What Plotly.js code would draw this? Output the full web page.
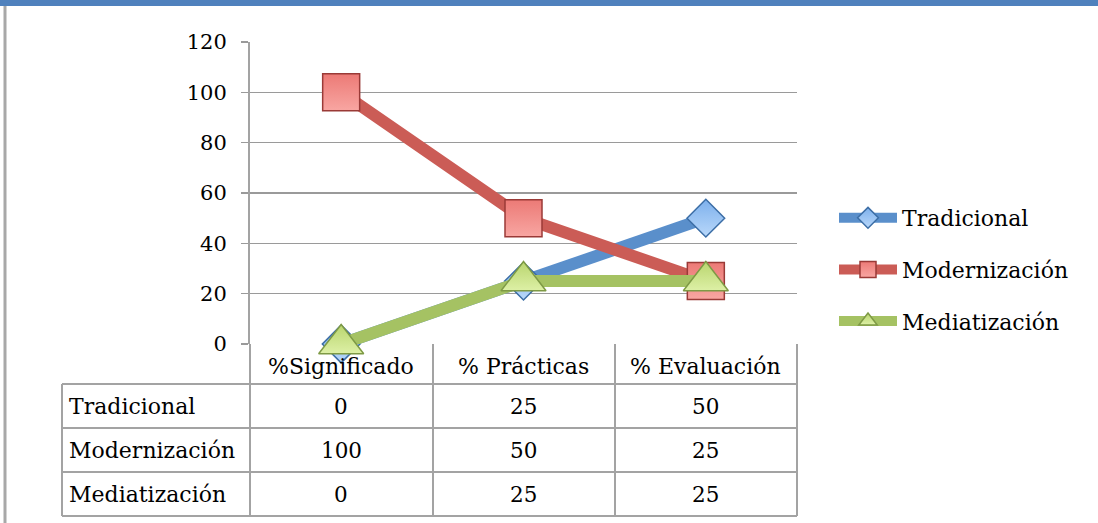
<!DOCTYPE html>
<html>
<head>
<meta charset="utf-8">
<script src="https://cdn.plot.ly/plotly-3.0.1.min.js"></script>
<style>
html,body{margin:0;padding:0;background:#fff;}
#chart{width:1098px;height:523px;}
</style>
</head>
<body>
<div id="chart"></div>
<script>
// ---- data ----
var categories = ['%Significado', '% Prácticas', '% Evaluación'];
var seriesNames = ['Tradicional', 'Modernización', 'Mediatización'];
var tradicional = [0, 25, 50];
var modernizacion = [100, 50, 25];
var mediatizacion = [0, 25, 25];
var yTicks = [0, 20, 40, 60, 80, 100, 120];

var seriesValues = [tradicional, modernizacion, mediatizacion];

// ---- layout geometry (pixels) ----
var W = 1098, H = 523;
var L = 250, R = 797, T = 42, B = 344;
var pw = R - L, ph = B - T;
function px(x) { return (x - L) / pw; }
function py(y) { return (B - y) / ph; }

var FONT = 'DejaVu Serif';
var GRID = '#9a9a9a';
var TB = '#a3a3a3';

var styles = [
  {line: '#5A8FCB', fill: '#7DB0EC', grad: '#B9D8FA', edge: '#3C6EA6', symbol: 'diamond', size: 29},
  {line: '#CB5C56', fill: '#EC7A76', grad: '#F8A6A2', edge: '#9A3A37', symbol: 'square', size: 37},
  {line: '#A5C263', fill: '#B9D56E', grad: '#DDF0A6', edge: '#7E9A45', symbol: 'triangle-up', size: 39}
];

var traces = seriesNames.map(function (name, i) {
  var s = styles[i];
  return {
    type: 'scatter', mode: 'lines+markers', name: name,
    x: categories, y: seriesValues[i],
    legendgroup: 'g' + i,
    cliponaxis: false,
    line: {color: s.line, width: 12},
    marker: {symbol: s.symbol, size: s.size, color: s.fill,
             gradient: {type: 'vertical', color: s.grad},
             line: {color: s.edge, width: 1.5}}
  };
});

var shapes = [];
var annotations = [];
function hline(x0, x1, y, color, w) {
  shapes.push({type: 'line', xref: 'paper', yref: 'paper', x0: px(x0), x1: px(x1), y0: py(y), y1: py(y),
               line: {color: color, width: w}});
}
function vline(x, y0, y1, color, w) {
  shapes.push({type: 'line', xref: 'paper', yref: 'paper', x0: px(x), x1: px(x), y0: py(y0), y1: py(y1),
               line: {color: color, width: w}});
}

// header strip and left border
shapes.push({type: 'rect', xref: 'paper', yref: 'paper', x0: px(0), x1: px(W), y0: py(0), y1: py(6),
             line: {width: 0}, fillcolor: '#4F81BD', layer: 'above'});
vline(5, 6, H, '#a8a8a8', 3);

// data table
var rowTops = [384, 428, 472, 516];
rowTops.forEach(function (y) { hline(62, 797, y, TB, 2); });
vline(62, 384, 516, TB, 2);
vline(250, 344, 516, TB, 2);
vline(433, 344, 516, TB, 2);
vline(615, 344, 516, TB, 2);
vline(797, 344, 516, TB, 2);

// header labels (categories)
categories.forEach(function (c) {
  annotations.push({xref: 'x', yref: 'paper', x: c, y: py(366), text: c, showarrow: false,
                    font: {family: FONT, size: 22, color: '#000'}, xanchor: 'center', yanchor: 'middle'});
});
// rows
seriesNames.forEach(function (name, i) {
  var yc = (rowTops[i] + rowTops[i + 1]) / 2;
  annotations.push({xref: 'paper', yref: 'paper', x: px(67), y: py(yc), text: name, showarrow: false,
                    font: {family: FONT, size: 22, color: '#000'}, xanchor: 'left', yanchor: 'middle'});
  seriesValues[i].forEach(function (v, j) {
    annotations.push({xref: 'x', yref: 'paper', x: categories[j], y: py(yc), text: String(v), showarrow: false,
                      font: {family: FONT, size: 21.5, color: '#000'}, xanchor: 'center', yanchor: 'middle'});
  });
});

var layout = {
  width: W, height: H,
  margin: {l: L, r: W - R, t: T, b: H - B, pad: 0},
  paper_bgcolor: '#fff', plot_bgcolor: '#fff',
  showlegend: true,
  legend: {x: px(834), y: py(197), xanchor: 'left', yanchor: 'top',
           font: {family: FONT, size: 22, color: '#000'},
           traceorder: 'grouped', tracegroupgap: 20, itemwidth: 58,
           bgcolor: 'rgba(0,0,0,0)'},
  xaxis: {type: 'category', range: [-0.5, 2.5], showticklabels: false, showgrid: false,
          zeroline: false, showline: false, ticks: ''},
  yaxis: {range: [0, 120], tickvals: yTicks, ticktext: yTicks.map(String),
          showgrid: true, gridcolor: GRID, gridwidth: 1.3,
          zeroline: false, showline: true, linecolor: TB, linewidth: 2,
          ticks: 'outside', ticklen: 7, tickcolor: GRID, tickwidth: 1.3,
          ticklabelstandoff: 10,
          tickfont: {family: FONT, size: 21, color: '#000'}},
  shapes: shapes,
  annotations: annotations
};

Plotly.newPlot('chart', traces, layout, {displayModeBar: false, staticPlot: true});
</script>
</body>
</html>
